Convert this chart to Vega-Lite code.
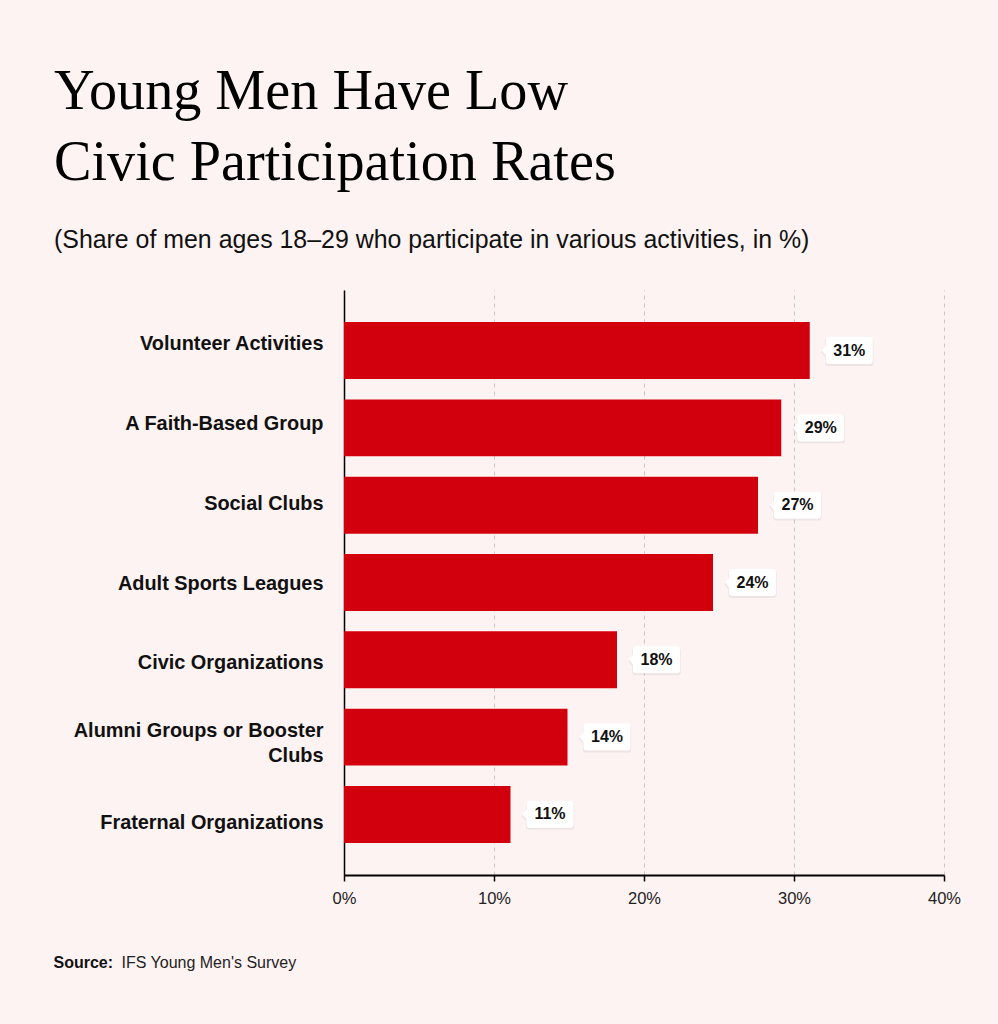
{
  "$schema": "https://vega.github.io/schema/vega-lite/v6.json",
  "width": 600,
  "height": 585,
  "autosize": {"type": "none"},
  "padding": {"left": 344, "top": 290, "right": 54, "bottom": 149},
  "background": "#fef3f3",
  "title": {
    "text": ["Young Men Have Low", "Civic Participation Rates"],
    "subtitle": "(Share of men ages 18–29 who participate in various activities, in %)",
    "anchor": "start",
    "frame": "group",
    "dx": -290,
    "offset": 36,
    "font": "Liberation Serif",
    "fontSize": 56.2,
    "fontWeight": "normal",
    "lineHeight": 71,
    "color": "#000000",
    "subtitleFont": "Liberation Sans",
    "subtitleFontSize": 24.9,
    "subtitleColor": "#111111",
    "subtitlePadding": 36
  },
  "data": {
    "values": [
      {"activity": "Volunteer Activities", "share": 31.05, "label": "31%"},
      {"activity": "A Faith-Based Group", "share": 29.15, "label": "29%"},
      {"activity": "Social Clubs", "share": 27.6, "label": "27%"},
      {"activity": "Adult Sports Leagues", "share": 24.6, "label": "24%"},
      {"activity": "Civic Organizations", "share": 18.2, "label": "18%"},
      {"activity": "Alumni Groups or Booster Clubs", "share": 14.9, "label": "14%"},
      {"activity": "Fraternal Organizations", "share": 11.1, "label": "11%"}
    ]
  },
  "encoding": {
    "y": {
      "field": "activity",
      "type": "nominal",
      "sort": null,
      "scale": {"paddingInner": 0.263, "paddingOuter": 0.415},
      "axis": {
        "title": "Source:",
        "titleAngle": 0,
        "titleX": -291,
        "titleY": 677,
        "titleAlign": "left",
        "titleBaseline": "alphabetic",
        "titleFont": "Liberation Sans",
        "titleFontSize": 16,
        "titleFontWeight": "bold",
        "titleColor": "#111111",
        "labelFont": "Liberation Sans",
        "labelFontSize": 19.9,
        "labelFontWeight": "bold",
        "labelColor": "#111111",
        "labelPadding": 21,
        "labelLimit": 400,
        "labelLineHeight": 25,
        "labelExpr": "datum.value == 'Alumni Groups or Booster Clubs' ? ['Alumni Groups or Booster', 'Clubs'] : datum.value",
        "labelOffset": {"expr": "(indexof(domain('y'), datum.value) - 3) * 2.5 + 1 + (datum.value == 'Alumni Groups or Booster Clubs' ? -12.5 : 0)"},
        "ticks": false,
        "grid": false,
        "domainColor": "#000000",
        "domainWidth": 1.5
      }
    },
    "x": {
      "field": "share",
      "type": "quantitative",
      "scale": {"domain": [0, 40], "nice": false},
      "axis": {
        "values": [0, 10, 20, 30, 40],
        "labelExpr": "datum.value + '%'",
        "labelFlush": false,
        "labelFont": "Liberation Sans",
        "labelFontSize": 16.5,
        "labelColor": "#222222",
        "labelPadding": 9,
        "tickColor": "#000000",
        "tickSize": 6,
        "tickWidth": 1.5,
        "domainColor": "#000000",
        "domainWidth": 2,
        "grid": true,
        "gridColor": "#cfc4c4",
        "gridDash": [4, 4],
        "gridWidth": 1,
        "title": "IFS Young Men's Survey",
        "titleX": -223,
        "titleY": 92,
        "titleAlign": "left",
        "titleAnchor": "start",
        "titleBaseline": "alphabetic",
        "titleFont": "Liberation Sans",
        "titleFontSize": 16,
        "titleFontWeight": "normal",
        "titleColor": "#222222"
      }
    }
  },
  "layer": [
    {"mark": {"type": "bar", "color": "#d2000d"}},
    {
      "mark": {
        "type": "point",
        "shape": "M -0.854 -0.5625 L 0.854 -0.5625 Q 0.979 -0.5625 0.979 -0.4375 L 0.979 0.4375 Q 0.979 0.5625 0.854 0.5625 L -0.854 0.5625 Q -0.979 0.5625 -0.979 0.4375 L -0.979 0.208 L -1.146 0 L -0.979 -0.208 L -0.979 -0.4375 Q -0.979 -0.5625 -0.854 -0.5625 Z",
        "size": 2450,
        "filled": true,
        "fill": "#000000",
        "opacity": 0.06,
        "strokeWidth": 0,
        "xOffset": 39.5,
        "yOffset": 1.5
      }
    },
    {
      "mark": {
        "type": "point",
        "shape": "M -0.854 -0.5625 L 0.854 -0.5625 Q 0.979 -0.5625 0.979 -0.4375 L 0.979 0.4375 Q 0.979 0.5625 0.854 0.5625 L -0.854 0.5625 Q -0.979 0.5625 -0.979 0.4375 L -0.979 0.208 L -1.146 0 L -0.979 -0.208 L -0.979 -0.4375 Q -0.979 -0.5625 -0.854 -0.5625 Z",
        "size": 2304,
        "filled": true,
        "fill": "#ffffff",
        "opacity": 1,
        "strokeWidth": 0,
        "xOffset": 39.5
      }
    },
    {
      "mark": {
        "type": "text",
        "xOffset": 39.5,
        "align": "center",
        "baseline": "middle",
        "font": "Liberation Sans",
        "fontSize": 16,
        "fontWeight": "bold",
        "color": "#111111"
      },
      "encoding": {"text": {"field": "label"}}
    }
  ],
  "config": {"view": {"stroke": null}}
}
